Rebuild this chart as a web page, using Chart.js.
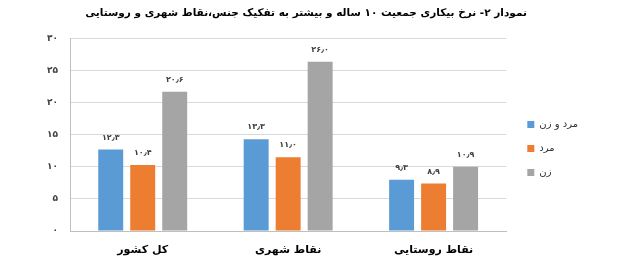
<!DOCTYPE html>
<html>
<head>
<meta charset="utf-8">
<script src="https://cdn.jsdelivr.net/npm/chart.js@4.4.0/dist/chart.umd.min.js"></script>
<style>
  html, body { margin: 0; padding: 0; background: #fff; }
  #wrap { width: 624px; height: 269px; }
</style>
</head>
<body>
<div id="wrap"><canvas id="cp-chart" dir="rtl"></canvas></div>
<script>
// categories, left to right as in the picture
const categories = ['کل کشور', 'نقاط شهری', 'نقاط روستایی'];
const seriesNames = ['مرد و زن', 'مرد', 'زن'];

// bar heights as drawn
const bothValues  = [12.7, 14.3, 8.0];
const menValues   = [10.3, 11.5, 7.4];
const womenValues = [21.7, 26.4, 10.0];

// printed value labels
const bothLabels  = ['۱۲٫۳', '۱۳٫۳', '۹٫۳'];
const menLabels   = ['۱۰٫۴', '۱۱٫۰', '۸٫۹'];
const womenLabels = ['۲۰٫۶', '۲۶٫۰', '۱۰٫۹'];

const yTicks = [0, 5, 10, 15, 20, 25, 30];

const colors = ['#5B9BD5', '#ED7D31', '#A5A5A5'];
const FONT = "'DejaVu Sans', sans-serif";

function faDigits( s ) {
	return String( s ).replace( /\d/g, d => '۰۱۲۳۴۵۶۷۸۹'[d] );
}

// value labels above the bars
const barLabels = {
	id: 'barLabels',
	afterDatasetsDraw( chart ) {
		const ctx = chart.ctx;
		ctx.save();
		ctx.font = 'bold 8px ' + FONT;
		ctx.fillStyle = '#404040';
		ctx.textAlign = 'center';
		ctx.textBaseline = 'middle';
		chart.data.datasets.forEach( ( ds, i ) => {
			chart.getDatasetMeta( i ).data.forEach( ( bar, j ) => {
				ctx.fillText( ds.valueLabels[j], bar.x, bar.y - 12 );
			});
		});
		ctx.restore();
	}
};

new Chart( document.getElementById( 'cp-chart' ), {
	type: 'bar',
	plugins: [ barLabels ],
	data: {
		labels: categories,
		datasets: [
			{ label: seriesNames[0], data: bothValues,  valueLabels: bothLabels,  backgroundColor: colors[0] },
			{ label: seriesNames[1], data: menValues,   valueLabels: menLabels,   backgroundColor: colors[1] },
			{ label: seriesNames[2], data: womenValues, valueLabels: womenLabels, backgroundColor: colors[2] }
		]
	},
	options: {
		responsive: true,
		maintainAspectRatio: false,
		animation: false,
		layout: { padding: { top: 0, right: 36, bottom: 0, left: 24 } },
		datasets: {
			bar: { categoryPercentage: 0.66, barPercentage: 0.78 }
		},
		plugins: {
			title: {
				display: true,
				text: 'نمودار ۲- نرخ بیکاری جمعیت ۱۰ ساله و بیشتر به تفکیک جنس،نقاط شهری و روستایی',
				color: '#000',
				font: { family: FONT, size: 10.5, weight: 'bold' },
				padding: { top: 7, bottom: 19 }
			},
			legend: {
				position: 'right',
				title: {
					display: true,
					text: ' ',
					font: { family: FONT, size: 10 },
					padding: { top: 8, bottom: 8 }
				},
				labels: {
					boxWidth: 7,
					boxHeight: 7,
					padding: 14,
					color: '#333',
					font: { family: FONT, size: 10 }
				}
			},
			tooltip: { enabled: false }
		},
		scales: {
			x: {
				grid: { display: false, drawTicks: false },
				border: { display: true, color: '#bfbfbf', width: 1 },
				ticks: {
					padding: 13,
					color: '#000',
					font: { family: FONT, size: 11, weight: 'bold' }
				},
				afterFit: s => { s.height = 38; }
			},
			y: {
				min: 0,
				max: 30,
				afterBuildTicks: s => { s.ticks = yTicks.map( v => ({ value: v }) ); },
				grid: { color: '#d9d9d9', drawTicks: false },
				border: { display: true, color: '#bfbfbf', width: 1 },
				ticks: {
					padding: 12,
					color: '#404040',
					font: { family: FONT, size: 9, weight: 'bold' },
					callback: v => faDigits( v )
				},
				afterFit: s => { s.width = 46; }
			},
			// empty spacer between the plot and the legend
			gap: {
				type: 'linear',
				position: 'right',
				display: true,
				grid: { display: false, drawTicks: false },
				border: { display: false },
				ticks: { display: false },
				afterFit: s => { s.width = 7; }
			}
		}
	}
});
</script>
</body>
</html>
